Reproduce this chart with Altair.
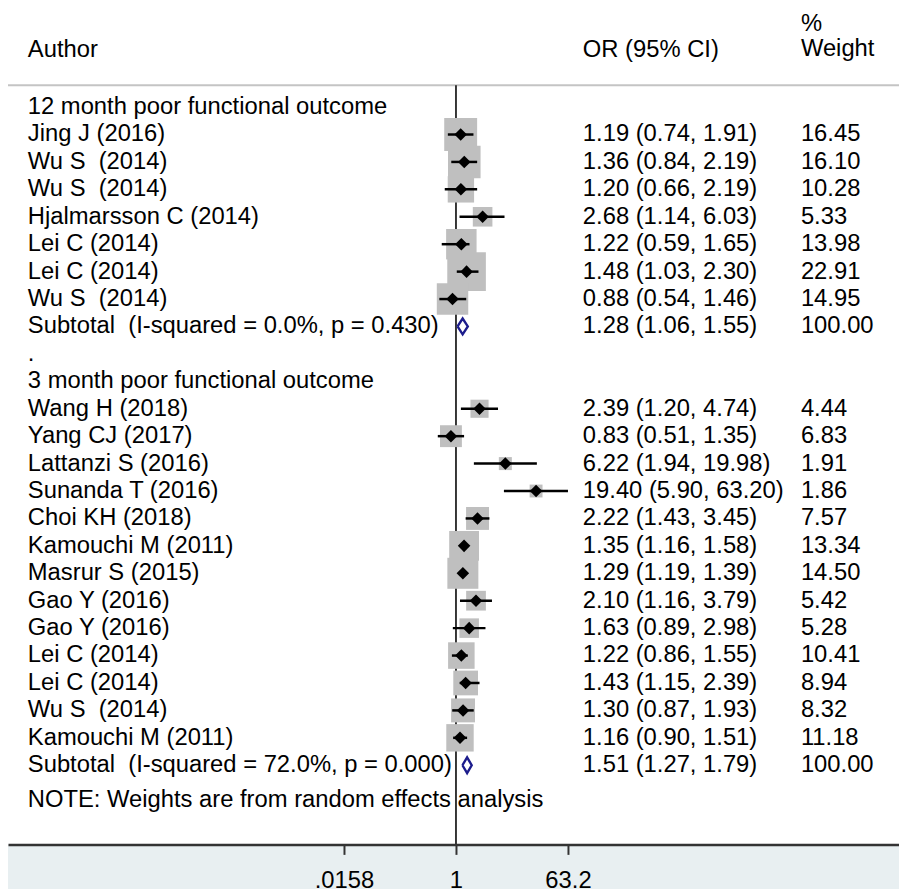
import math
import altair as alt
import pandas as pd

# ---------------- data ----------------
group_titles = ["12 month poor functional outcome", "3 month poor functional outcome"]

g1_authors = ["Jing J (2016)", "Wu S  (2014)", "Wu S  (2014)", "Hjalmarsson C (2014)",
              "Lei C (2014)", "Lei C (2014)", "Wu S  (2014)"]
g1_or = [1.19, 1.36, 1.20, 2.68, 1.22, 1.48, 0.88]
g1_lo = [0.74, 0.84, 0.66, 1.14, 0.59, 1.03, 0.54]
g1_hi = [1.91, 2.19, 2.19, 6.03, 1.65, 2.30, 1.46]
g1_weight = [16.45, 16.10, 10.28, 5.33, 13.98, 22.91, 14.95]
g1_subtotal = ["Subtotal  (I-squared = 0.0%, p = 0.430)", 1.28, 1.06, 1.55, 100.00]

g2_authors = ["Wang H (2018)", "Yang CJ (2017)", "Lattanzi S (2016)", "Sunanda T (2016)",
              "Choi KH (2018)", "Kamouchi M (2011)", "Masrur S (2015)", "Gao Y (2016)",
              "Gao Y (2016)", "Lei C (2014)", "Lei C (2014)", "Wu S  (2014)", "Kamouchi M (2011)"]
g2_or = [2.39, 0.83, 6.22, 19.40, 2.22, 1.35, 1.29, 2.10, 1.63, 1.22, 1.43, 1.30, 1.16]
g2_lo = [1.20, 0.51, 1.94, 5.90, 1.43, 1.16, 1.19, 1.16, 0.89, 0.86, 1.15, 0.87, 0.90]
g2_hi = [4.74, 1.35, 19.98, 63.20, 3.45, 1.58, 1.39, 3.79, 2.98, 1.55, 2.39, 1.93, 1.51]
g2_weight = [4.44, 6.83, 1.91, 1.86, 7.57, 13.34, 14.50, 5.42, 5.28, 10.41, 8.94, 8.32, 11.18]
g2_subtotal = ["Subtotal  (I-squared = 72.0%, p = 0.000)", 1.51, 1.27, 1.79, 100.00]

separator_text = "."
note_text = "NOTE: Weights are from random effects analysis"
header_author = "Author"
header_or = "OR (95% CI)"
header_pct = "%"
header_weight = "Weight"

tick_values = [0.0158, 1, 63.2]
tick_labels = [".0158", "1", "63.2"]

# ---------------- build tables ----------------
def fix(s):
    return s.replace("  ", " \u00a0")

rows = []
r = 0
groups = [
    (group_titles[0], g1_authors, g1_or, g1_lo, g1_hi, g1_weight, g1_subtotal),
    (group_titles[1], g2_authors, g2_or, g2_lo, g2_hi, g2_weight, g2_subtotal),
]
for gi, (title, auth, est, lo, hi, w, sub) in enumerate(groups):
    if gi > 0:
        rows.append(dict(row=r, label=separator_text, kind="sep"))
        r += 1
    rows.append(dict(row=r, label=title, kind="title"))
    r += 1
    for a, e, l, h, ww in zip(auth, est, lo, hi, w):
        rows.append(dict(row=r, label=fix(a), kind="study", est=e, lo=l, hi=h, w=ww,
                         ortext=f"{e:.2f} ({l:.2f}, {h:.2f})", wtext=f"{ww:.2f}"))
        r += 1
    rows.append(dict(row=r, label=fix(sub[0]), kind="sub", est=sub[1], lo=sub[2], hi=sub[3],
                     w=sub[4], ortext=f"{sub[1]:.2f} ({sub[2]:.2f}, {sub[3]:.2f})",
                     wtext=f"{sub[4]:.2f}", grp=gi))
    r += 1

df = pd.DataFrame(rows)
studies = df[df.kind == "study"]
subs = df[df.kind == "sub"]
numeric = df[df.kind.isin(["study", "sub"])]

# subtotal diamond polygons
half_h = 0.29
poly = []
for _, s in subs.iterrows():
    pts = [(s.lo, s.row), (s.est, s.row - half_h), (s.hi, s.row), (s.est, s.row + half_h), (s.lo, s.row)]
    for k, (xv, yv) in enumerate(pts):
        poly.append(dict(x=xv, y=yv, k=k, grp=int(s.grp)))
poly = pd.DataFrame(poly)

# ---------------- scales ----------------
W, H = 899, 840
x_one = 452
k_px = 113 / math.log(63.2)
xdom = [math.exp(-x_one / k_px), math.exp((W - x_one) / k_px)]
row0, step = 96, 27.67
ydom = [-row0 / step, (H - row0) / step]

xs = alt.Scale(type="log", domain=xdom, nice=False, zero=False)
ys = alt.Scale(domain=ydom, reverse=True, nice=False, zero=False)

label_expr = "".join(f"datum.value == {v} ? '{t}' : " for v, t in zip(tick_values, tick_labels)) + "''"

FONT = "Liberation Sans"
FS = 24
one = pd.DataFrame({"a": [0]})

bg = alt.Chart(one).mark_rect(color="#e8eff1").encode(
    x=alt.value(0), x2=alt.value(W), y=alt.value(H), y2=alt.value(H + 45))

topline = alt.Chart(one).mark_rule(color="#c4c4c4", strokeWidth=2).encode(
    x=alt.value(0), x2=alt.value(W), y=alt.value(74))

vline = alt.Chart(one).mark_rule(color="#222222", strokeWidth=1.8).encode(
    x=alt.X(datum=1, scale=xs,
            axis=alt.Axis(values=tick_values, labelExpr=label_expr, title=None, grid=False,
                          domainColor="#333333", domainWidth=2.5, tickColor="#333333",
                          tickWidth=2, tickSize=10, labelFontSize=FS, labelFont=FONT,
                          labelColor="black", labelPadding=14, labelFlush=False,
                          labelOverlap=False, zindex=1)),
    y=alt.value(74), y2=alt.value(H))

boxes = alt.Chart(studies).mark_square(filled=True, color="#bfbfbf", opacity=1).encode(
    x=alt.X("est:Q", scale=xs),
    y=alt.Y("row:Q", scale=ys, axis=None),
    size=alt.Size("w:Q", scale=alt.Scale(domain=[0, 100], range=[50, 6450]), legend=None))

ci = alt.Chart(studies).mark_rule(color="black", strokeWidth=2.5).encode(
    x=alt.X("lo:Q", scale=xs), x2="hi:Q", y=alt.Y("row:Q", scale=ys, axis=None))

pts = alt.Chart(studies).mark_point(shape="diamond", filled=True, color="black",
                                     size=160, opacity=1).encode(
    x=alt.X("est:Q", scale=xs), y=alt.Y("row:Q", scale=ys, axis=None))

dia = alt.Chart(poly).mark_line(color="#1c1c8c", strokeWidth=2.4).encode(
    x=alt.X("x:Q", scale=xs), y=alt.Y("y:Q", scale=ys, axis=None),
    order="k:Q", detail="grp:N")

txt_kw = dict(font=FONT, fontSize=FS, color="black", align="left", baseline="middle")
left_txt = alt.Chart(df).mark_text(**txt_kw).encode(
    x=alt.value(20), y=alt.Y("row:Q", scale=ys, axis=None), text="label:N")
or_txt = alt.Chart(numeric).mark_text(**txt_kw).encode(
    x=alt.value(580), y=alt.Y("row:Q", scale=ys, axis=None), text="ortext:N")
w_txt = alt.Chart(numeric).mark_text(**txt_kw).encode(
    x=alt.value(800), y=alt.Y("row:Q", scale=ys, axis=None), text="wtext:N")

hdr = pd.DataFrame({"t": [header_author, header_or, header_pct, header_weight],
                     "c": ["a", "b", "c", "d"]})
h1 = alt.Chart(hdr[hdr.c == "a"]).mark_text(**txt_kw).encode(x=alt.value(20), y=alt.value(38), text="t:N")
h2 = alt.Chart(hdr[hdr.c == "b"]).mark_text(**txt_kw).encode(x=alt.value(580), y=alt.value(38), text="t:N")
h3 = alt.Chart(hdr[hdr.c == "c"]).mark_text(**txt_kw).encode(x=alt.value(800), y=alt.value(12), text="t:N")
h4 = alt.Chart(hdr[hdr.c == "d"]).mark_text(**txt_kw).encode(x=alt.value(800), y=alt.value(37), text="t:N")

note = alt.Chart(pd.DataFrame({"t": [note_text]})).mark_text(**txt_kw).encode(
    x=alt.value(20), y=alt.value(795), text="t:N")

chart = alt.layer(bg, topline, vline, boxes, ci, pts, dia, left_txt, or_txt, w_txt,
                  h1, h2, h3, h4, note).properties(
    width=W, height=H,
    autosize=alt.AutoSizeParams(type="none"),
    padding={"left": 0, "top": 0, "right": 0, "bottom": 45},
).configure(font=FONT).configure_view(stroke=None, strokeWidth=0)

chart.save("out.html", embed_options={"renderer": "svg", "actions": False})
